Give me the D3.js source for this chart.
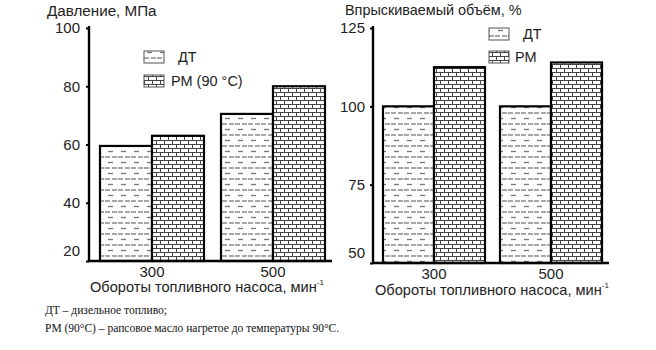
<!DOCTYPE html>
<html><head><meta charset="utf-8">
<script src="https://cdn.jsdelivr.net/npm/d3@7"></script>
<style>body{margin:0;background:#fff}svg{display:block}</style>
</head><body><div id="c"></div>
<script>
const categories = ["300", "500"];
const seriesLeft = ["ДТ", "РМ (90 °C)"];
const pressureDT = [59.5, 70.5];
const pressurePM = [63, 80];
const leftTicks = [20, 40, 60, 80, 100];
const seriesRight = ["ДТ", "РМ"];
const volumeDT = [100, 100];
const volumePM = [112.5, 114];
const rightTicks = [50, 75, 100, 125];
const xTitle = "Обороты топливного насоса, мин";
const leftTitle = "Давление, МПа";
const rightTitle = "Впрыскиваемый объём, %";
const notes = ["ДТ – дизельное топливо;", "РМ (90°С) – рапсовое масло нагретое до температуры 90°С."];

const W = 656, H = 350;
const svg = d3.select("#c").append("svg").attr("width", W).attr("height", H)
  .style("font-family", "'Liberation Sans', Arial, sans-serif");

const defs = svg.append("defs");
// dash pattern
const pd = defs.append("pattern").attr("id", "dash").attr("patternUnits", "userSpaceOnUse")
  .attr("width", 13).attr("height", 11);
pd.append("rect").attr("width", 13).attr("height", 11).attr("fill", "#fff");
pd.append("line").attr("x1", 1).attr("x2", 6).attr("y1", 3).attr("y2", 3).attr("stroke", "#777").attr("stroke-width", 1.3);
pd.append("line").attr("x1", 8).attr("x2", 13).attr("y1", 3).attr("y2", 3).attr("stroke", "#777").attr("stroke-width", 1.3);
pd.append("line").attr("x1", 4).attr("x2", 9).attr("y1", 8.5).attr("y2", 8.5).attr("stroke", "#777").attr("stroke-width", 1.3);
// brick pattern
const pb = defs.append("pattern").attr("id", "brick").attr("patternUnits", "userSpaceOnUse")
  .attr("width", 8).attr("height", 8);
pb.append("rect").attr("width", 8).attr("height", 8).attr("fill", "#fff");
pb.append("path").attr("d", "M0,0.5H8M0,4.5H8M0.5,0.5V4.5M4.5,4.5V8.5").attr("stroke", "#444").attr("stroke-width", 1).attr("fill", "none");

const fills = ["url(#dash)", "url(#brick)"];

function chart(cfg) {
  const g = svg.append("g");
  const y = d3.scaleLinear().domain(cfg.domain).range([cfg.bottom, cfg.top]);
  const x = d3.scaleBand().domain(categories).range(cfg.barRange).paddingInner(cfg.pad).paddingOuter(0);
  const xs = d3.scaleBand().domain(cfg.series).range([0, x.bandwidth()]);
  const data = [];
  categories.forEach((c, i) => {
    cfg.values.forEach((vals, si) => data.push({c, s: cfg.series[si], v: vals[i], si}));
  });
  g.selectAll("rect.bar").data(data).join("rect").attr("class", "bar")
    .attr("x", d => x(d.c) + xs(d.s))
    .attr("width", xs.bandwidth())
    .attr("y", d => y(d.v))
    .attr("height", d => cfg.bottom - y(d.v))
    .attr("fill", d => fills[d.si]).attr("stroke", "#000").attr("stroke-width", 2.2);

  // y axis
  const ya = g.append("g").attr("transform", `translate(${cfg.axisX},0)`)
    .call(d3.axisLeft(y).tickValues(cfg.ticks).tickSize(3).tickSizeOuter(0).tickPadding(cfg.yPad));
  ya.select(".domain").attr("stroke-width", 2.4).attr("d", `M0,${cfg.bottom}V${cfg.top - 2}`);
  ya.selectAll(".tick line").attr("stroke-width", 2);
  ya.selectAll("text").attr("font-size", 15).attr("fill", "#222").attr("font-family", "'Liberation Sans', Arial, sans-serif")
    .attr("dy", (d, i) => i === 0 ? "-0.35em" : "0.32em");

  // x axis
  const xa = g.append("g").attr("transform", `translate(0,${cfg.bottom})`)
    .call(d3.axisBottom(x).tickSize(0).tickPadding(cfg.xPad));
  xa.select(".domain").attr("stroke-width", 2.4).attr("d", `M${cfg.axisX - 1},0H${cfg.axisEnd}`);
  xa.selectAll("text").attr("font-size", 15).attr("fill", "#222").attr("font-family", "'Liberation Sans', Arial, sans-serif");

  const t = g.append("text").attr("x", cfg.xTitleX).attr("y", cfg.xTitleY).attr("font-size", 14.6).attr("fill", "#222");
  t.append("tspan").text(xTitle);
  t.append("tspan").text("-1").attr("font-size", 8).attr("dy", -7);

  g.append("text").attr("x", cfg.yTitleX).attr("y", cfg.yTitleY).attr("font-size", cfg.yTitleSize).attr("fill", "#222").text(cfg.yTitle);

  // legend
  cfg.series.forEach((s, i) => {
    const ly = cfg.legY + i * cfg.legStep;
    g.append("rect").attr("x", cfg.legX).attr("y", ly).attr("width", 20).attr("height", 12)
      .attr("fill", fills[i]).attr("stroke", "#555").attr("stroke-width", 1);
    g.append("text").attr("x", cfg.legX + cfg.legTextDx[i]).attr("y", ly + 11).attr("font-size", 14.5).attr("fill", "#222").text(s);
  });
}

chart({domain: [20, 100], top: 28, bottom: 261, barRange: [100, 325], pad: 17 / 121,
  series: seriesLeft, values: [pressureDT, pressurePM], ticks: leftTicks,
  axisX: 89, axisEnd: 332, xPad: 5, yPad: 6, xTitleX: 90, xTitleY: 292,
  yTitle: leftTitle, yTitleSize: 15.2, yTitleX: 47, yTitleY: 16,
  legX: 144, legY: 51, legStep: 24, legTextDx: [34, 27]});

chart({domain: [50, 125], top: 28, bottom: 263, barRange: [383, 602], pad: 15 / 117,
  series: seriesRight, values: [volumeDT, volumePM], ticks: rightTicks,
  axisX: 373, axisEnd: 609, xPad: 5, yPad: 5, xTitleX: 375, xTitleY: 295,
  yTitle: rightTitle, yTitleSize: 14.4, yTitleX: 345, yTitleY: 15,
  legX: 489, legY: 28, legStep: 23, legTextDx: [34, 26]});

svg.selectAll("text.note").data(notes).join("text").attr("class", "note")
  .attr("x", 45).attr("y", (d, i) => 314 + i * 18)
  .attr("font-family", "'Liberation Serif', 'Times New Roman', serif").attr("font-size", 11.5).attr("fill", "#111")
  .text(d => d);
</script></body></html>
